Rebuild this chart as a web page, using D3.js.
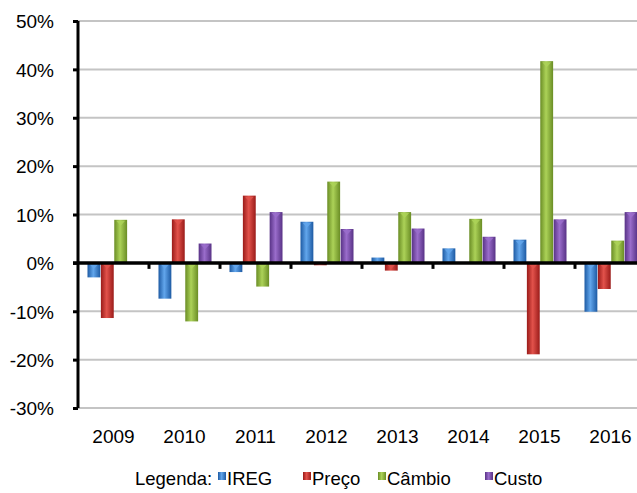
<!DOCTYPE html>
<html>
<head>
<meta charset="utf-8">
<script src="https://cdn.jsdelivr.net/npm/d3@7"></script>
<style>
  body { margin: 0; background: #fff; }
  text { font-family: "Liberation Sans", Arial, sans-serif; fill: #000; }
</style>
</head>
<body>
<div id="chart"></div>
<script>
// data
const years = ['2009', '2010', '2011', '2012', '2013', '2014', '2015', '2016'];
const series = ['IREG', 'Preço', 'Câmbio', 'Custo'];
const ireg   = [-3.0, -7.4, -1.9,  8.5,  1.1, 3.0,   4.8, -10.1];
const preco  = [-11.4, 9.0, 13.9, -0.5, -1.6, 0.0, -18.9,  -5.4];
const cambio = [ 8.9, -12.1, -4.9, 16.8, 10.5, 9.1,  41.7,   4.6];
const custo  = [ 0.0,  4.0, 10.5,  7.0,  7.1, 5.4,   9.0,  10.5];
const yTicks = [-30, -20, -10, 0, 10, 20, 30, 40, 50];

const colors = {
    'IREG':   ['#1d5aa3', '#62a6ec'],
    'Preço':  ['#9a1b19', '#e2524b'],
    'Câmbio': ['#6a8d25', '#acd258'],
    'Custo':  ['#583286', '#9a6dcb']
};

const values = [ireg, preco, cambio, custo];
let data = [];
years.forEach(function(yr, i) {
    series.forEach(function(s, j) {
        data.push({year: yr, serie: s, value: values[j][i]});
    });
});

let width = 637, height = 493;
let plotLeft = 78, plotTop = 21, plotBottom = 408;

let svg = d3.select('#chart').append('svg')
    .attr('width', width)
    .attr('height', height);

let x = d3.scaleBand()
    .domain(years)
    .range([plotLeft, plotLeft + 8 * 71]);

let x1 = d3.scaleBand()
    .domain(series)
    .range([9.5, 62.5])
    .paddingInner(0.04);

let y = d3.scaleLinear()
    .domain([-30, 50])
    .range([plotBottom, plotTop]);

// gradients for the cylinder look
let defs = svg.append('defs');
series.forEach(function(s, i) {
    let g = defs.append('linearGradient')
        .attr('id', 'grad' + i)
        .attr('x1', '0%').attr('x2', '100%')
        .attr('y1', '0%').attr('y2', '0%');
    g.append('stop').attr('offset', '0%').attr('stop-color', colors[s][0]);
    g.append('stop').attr('offset', '45%').attr('stop-color', colors[s][1]);
    g.append('stop').attr('offset', '100%').attr('stop-color', colors[s][0]);
});

// gridlines
svg.append('g')
    .selectAll('line')
    .data(yTicks.filter(function(d) { return d !== 0; }))
    .enter().append('line')
    .attr('x1', plotLeft)
    .attr('x2', width)
    .attr('y1', function(d) { return y(d); })
    .attr('y2', function(d) { return y(d); })
    .style('stroke', '#c4c4c4')
    .style('stroke-width', 2);

// bars
svg.append('g')
    .selectAll('rect')
    .data(data)
    .enter().append('rect')
    .attr('x', function(d) { return x(d.year) + x1(d.serie); })
    .attr('width', x1.bandwidth())
    .attr('y', function(d) { return y(Math.max(0, d.value)); })
    .attr('height', function(d) { return Math.abs(y(d.value) - y(0)); })
    .style('fill', function(d) { return 'url(#grad' + series.indexOf(d.serie) + ')'; });

// little light caps at the top of each bar
svg.append('g')
    .selectAll('path')
    .data(data.filter(function(d) { return Math.abs(d.value) > 1.5; }))
    .enter().append('path')
    .attr('d', function(d) {
        let x0 = x(d.year) + x1(d.serie),
            w = x1.bandwidth(),
            yy = y(d.value > 0 ? d.value : 0);
        return 'M' + (x0 + 2) + ',' + (yy + 1) + 'L' + (x0 + w - 2) + ',' + (yy + 1) +
               'L' + (x0 + w / 2) + ',' + (yy + 6) + 'Z';
    })
    .style('fill', function(d) { return colors[d.serie][1]; })
    .style('opacity', 0.85);

// y axis
svg.append('g')
    .attr('transform', 'translate(' + plotLeft + ',0)')
    .call(d3.axisLeft(y)
        .tickValues(yTicks)
        .tickSize(5)
        .tickPadding(19)
        .tickFormat(function(d) { return d + '%'; }))
    .call(function(g) {
        g.select('.domain').style('stroke', '#000').style('stroke-width', 3)
            .attr('d', 'M0,' + plotTop + 'V' + plotBottom);
        g.selectAll('.tick line').style('stroke', '#000').style('stroke-width', 3);
        g.selectAll('text')
            .attr('dy', '0.36em')
            .style('font-size', '19px')
            .style('font-family', '"Liberation Sans", Arial, sans-serif');
    });

// zero line
svg.append('line')
    .attr('x1', plotLeft - 5)
    .attr('x2', width)
    .attr('y1', y(0))
    .attr('y2', y(0))
    .style('stroke', '#000')
    .style('stroke-width', 3.5);

// x ticks at category boundaries
svg.append('g')
    .selectAll('line')
    .data(years.slice(1))
    .enter().append('line')
    .attr('x1', function(d) { return x(d); })
    .attr('x2', function(d) { return x(d); })
    .attr('y1', y(0))
    .attr('y2', y(0) + 6)
    .style('stroke', '#000')
    .style('stroke-width', 3);

// year labels
svg.append('g')
    .selectAll('text')
    .data(years)
    .enter().append('text')
    .attr('x', function(d) { return x(d) + x.bandwidth() / 2; })
    .attr('y', 443)
    .attr('text-anchor', 'middle')
    .style('font-size', '19px')
    .text(function(d) { return d; });

// legend
let legend = svg.append('g').attr('transform', 'translate(0,485)');
legend.append('text')
    .attr('x', 135)
    .style('font-size', '18.5px')
    .text('Legenda:');
let legendX = [218, 303, 378, 485];
series.forEach(function(s, i) {
    let item = legend.append('g').attr('transform', 'translate(' + legendX[i] + ',0)');
    item.append('rect')
        .attr('x', 0).attr('y', -13)
        .attr('width', 8).attr('height', 8)
        .style('fill', 'url(#grad' + i + ')');
    item.append('text')
        .attr('x', 9)
        .style('font-size', '18.5px')
        .text(s);
});
</script>
</body>
</html>
